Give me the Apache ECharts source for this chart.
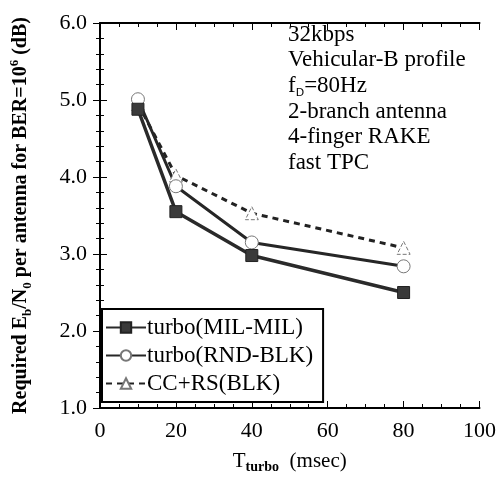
<!DOCTYPE html>
<html>
<head>
<meta charset="utf-8">
<script src="https://cdn.jsdelivr.net/npm/echarts@6/dist/echarts.min.js"></script>
<style>
  html, body { margin: 0; padding: 0; background: #fff; }
  #chart { width: 499px; height: 479px; }
</style>
</head>
<body>
<div id="chart"></div>
<script>
const xValues = [10, 20, 40, 80];
const milMil = [4.88, 3.55, 2.98, 2.50];
const rndBlk = [5.01, 3.88, 3.15, 2.84];
const ccRs = [4.95, 4.02, 3.53, 3.08];
const seriesNames = ['turbo(MIL-MIL)', 'turbo(RND-BLK)', 'CC+RS(BLK)'];
const noteLines = ['32kbps', 'Vehicular-B profile', 'f{sub|D}=80Hz', '2-branch antenna', '4-finger RAKE', 'fast TPC'];

const serif = "'Liberation Serif', 'Times New Roman', serif";
const pairs = ys => xValues.map((x, i) => [x, ys[i]]);

const chart = echarts.init(document.getElementById('chart'));

const frameAxis = {
  axisLine: { show: true, lineStyle: { color: '#000', width: 2 } },
  axisTick: { show: true, inside: true, length: 7, lineStyle: { color: '#000', width: 1 } },
  minorTick: { show: true, length: 4, lineStyle: { color: '#000', width: 1 } },
  splitLine: { show: false }
};

chart.setOption({
  animation: false,
  grid: { left: 93, right: 18, top: 23, bottom: 71 },
  xAxis: [
    {
      type: 'value', min: 0, max: 100, interval: 20, position: 'bottom',
      ...frameAxis,
      minorTick: { ...frameAxis.minorTick, splitNumber: 4 },
      axisLabel: { fontFamily: serif, fontSize: 22, color: '#000', margin: 12 },
      name: 'T{sub|turbo}  (msec)',
      nameLocation: 'middle',
      nameGap: 40,
      nameTextStyle: {
        fontFamily: serif, fontSize: 21, color: '#000', lineHeight: 26,
        rich: { sub: { fontFamily: serif, fontSize: 14, fontWeight: 'bold', verticalAlign: 'bottom', lineHeight: 14 } }
      }
    },
    {
      type: 'value', min: 0, max: 100, interval: 20, position: 'top',
      ...frameAxis,
      minorTick: { ...frameAxis.minorTick, splitNumber: 4 },
      axisLabel: { show: false }
    }
  ],
  yAxis: [
    {
      type: 'value', min: 1, max: 6, interval: 1, position: 'left',
      ...frameAxis,
      minorTick: { ...frameAxis.minorTick, splitNumber: 5 },
      axisLabel: { fontFamily: serif, fontSize: 22, color: '#000', margin: 13, formatter: v => v.toFixed(1) },
      name: 'Required E{sub|b}/N{sub|0} per antenna for BER=10{sup|6} (dB)',
      nameLocation: 'middle',
      nameGap: 66,
      nameTextStyle: {
        fontFamily: serif, fontSize: 20, fontWeight: 'bold', color: '#000', lineHeight: 26,
        rich: {
          sub: { fontFamily: serif, fontSize: 13, fontWeight: 'bold', verticalAlign: 'bottom', lineHeight: 13 },
          sup: { fontFamily: serif, fontSize: 13, fontWeight: 'bold', verticalAlign: 'top', lineHeight: 13 }
        }
      }
    },
    {
      type: 'value', min: 1, max: 6, interval: 1, position: 'right',
      ...frameAxis,
      axisLine: { show: true, lineStyle: { color: '#000', width: 1.5 } },
      minorTick: { ...frameAxis.minorTick, splitNumber: 5 },
      axisLabel: { show: false }
    }
  ],
  legend: {
    orient: 'vertical',
    left: 102, top: 309,
    data: seriesNames,
    backgroundColor: '#fff',
    borderColor: '#000', borderWidth: 2, borderRadius: 0,
    padding: [7, 10, 7, 3],
    itemGap: 5,
    itemWidth: 40, itemHeight: 13,
    textStyle: { fontFamily: serif, fontSize: 23, color: '#000', lineHeight: 22, padding: [0, 0, 0, -4] }
  },
  graphic: [{
    type: 'text',
    left: 288, top: 22,
    style: {
      text: noteLines.join('\n'),
      fontFamily: serif, fontSize: 23, fill: '#000', lineHeight: 25.6,
      rich: { sub: { fontFamily: "'DejaVu Sans', sans-serif", fontSize: 11, fill: '#000', verticalAlign: 'bottom', lineHeight: 8 } }
    }
  }],
  series: [
    {
      name: seriesNames[2], type: 'line', data: pairs(ccRs),
      symbol: 'triangle', symbolSize: 13,
      lineStyle: { color: '#222', width: 3, type: [6, 5] },
      itemStyle: { color: '#fff', borderColor: '#777', borderWidth: 1, borderType: 'dashed' }
    },
    {
      name: seriesNames[1], type: 'line', data: pairs(rndBlk),
      symbol: 'circle', symbolSize: 13,
      lineStyle: { color: '#262626', width: 3 },
      itemStyle: { color: '#fff', borderColor: '#777', borderWidth: 1 }
    },
    {
      name: seriesNames[0], type: 'line', data: pairs(milMil),
      symbol: 'rect', symbolSize: 12,
      lineStyle: { color: '#2a2a2a', width: 3.5 },
      itemStyle: { color: '#3a3a3a', borderColor: '#222', borderWidth: 1 }
    }
  ]
});
</script>
</body>
</html>
